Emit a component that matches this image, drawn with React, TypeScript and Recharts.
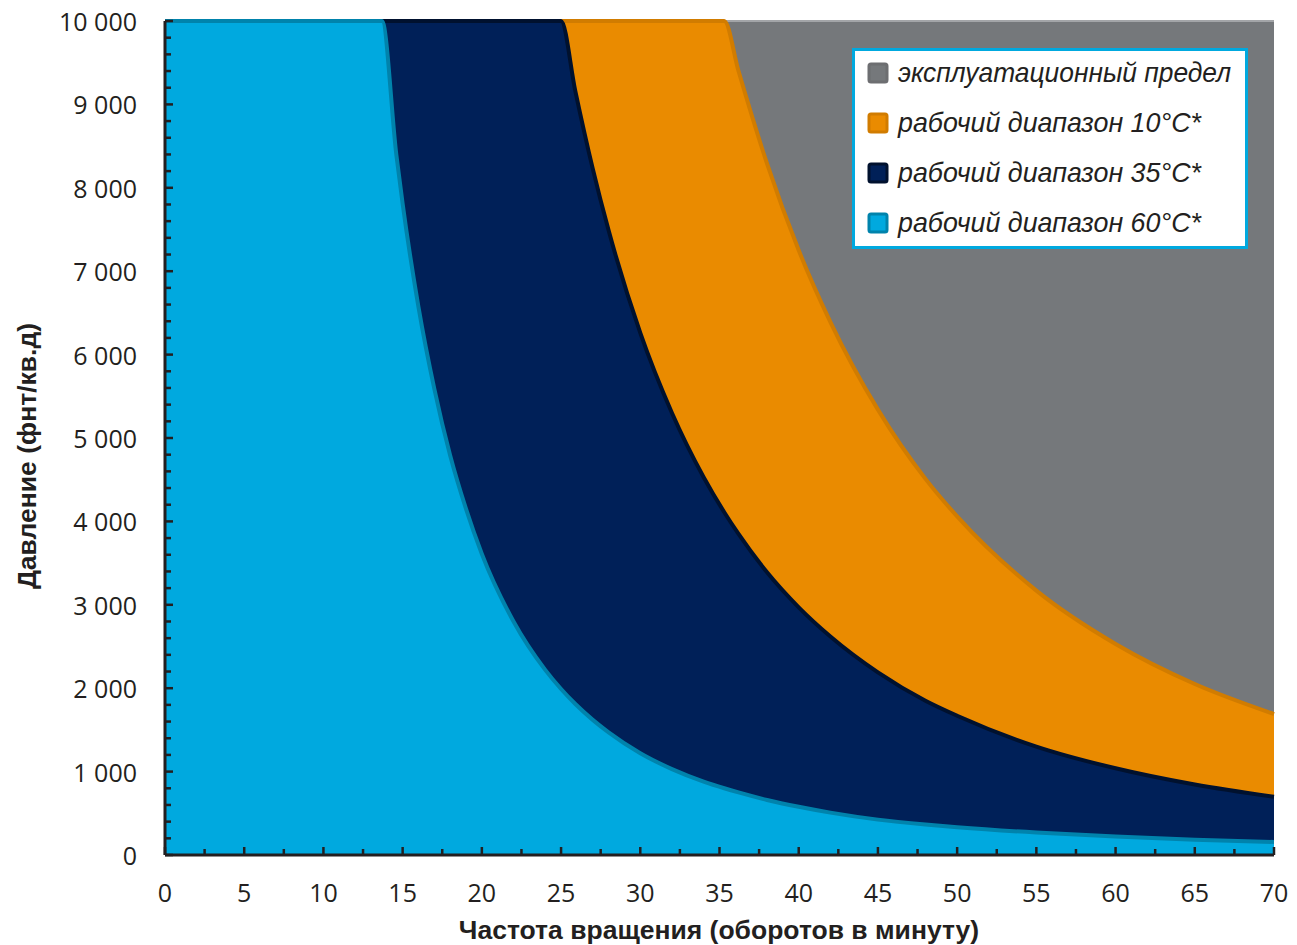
import React from "react";
import { AreaChart, Area, XAxis, YAxis, Legend } from "recharts";

// rotation speed, rpm
const rpm = [
  0, 5, 10, 13.7, 14.6, 15, 16, 17, 18, 19,
  20, 22, 24, 25, 25.9, 27, 28, 30, 32, 34,
  35.3, 36.2, 38, 40, 42, 45, 48, 50, 55, 60,
  65, 70,
];

// pressure, psi
const limitPsi = [
  10000, 10000, 10000, 10000, 10000, 10000, 10000, 10000, 10000, 10000,
  10000, 10000, 10000, 10000, 10000, 10000, 10000, 10000, 10000, 10000,
  10000, 10000, 10000, 10000, 10000, 10000, 10000, 10000, 10000, 10000,
  10000, 10000,
];
const range10 = [
  10000, 10000, 10000, 10000, 10000, 10000, 10000, 10000, 10000, 10000,
  10000, 10000, 10000, 10000, 10000, 10000, 10000, 10000, 10000, 10000,
  10000, 9400, 8290, 7250, 6390, 5340, 4510, 4060, 3170, 2530,
  2050, 1690,
];
const range35 = [
  10000, 10000, 10000, 10000, 10000, 10000, 10000, 10000, 10000, 10000,
  10000, 10000, 10000, 10000, 9160, 8230, 7490, 6260, 5300, 4530,
  4110, 3850, 3390, 2970, 2620, 2190, 1850, 1670, 1300, 1040,
  845, 698,
];
const range60 = [
  10000, 10000, 10000, 10000, 8400, 7810, 6570, 5590, 4790, 4150,
  3610, 2800, 2220, 1990, 1810, 1620, 1470, 1220, 1030, 880,
  800, 750, 660, 578, 508, 424, 365, 333, 269, 221,
  184, 156,
];

const seriesNames = {
  limit: "эксплуатационный предел",
  r10: "рабочий диапазон 10°C*",
  r35: "рабочий диапазон 35°C*",
  r60: "рабочий диапазон 60°C*",
};

const xTitle = "Частота вращения (оборотов в минуту)";
const yTitle = "Давление (фнт/кв.д)";

const xMajorTicks = [0, 5, 10, 15, 20, 25, 30, 35, 40, 45, 50, 55, 60, 65, 70];
const yMajorTicks = [0, 1000, 2000, 3000, 4000, 5000, 6000, 7000, 8000, 9000, 10000];
const xMinorStep = 2.5;
const yMinorStep = 200;

const xTicks = Array.from({ length: 70 / xMinorStep + 1 }, (_, i) => i * xMinorStep);
const yTicks = Array.from({ length: 10000 / yMinorStep + 1 }, (_, i) => i * yMinorStep);

const data = rpm.map((x, i) => ({
  rpm: x,
  limit: limitPsi[i],
  r10: range10[i],
  r35: range35[i],
  r60: range60[i],
}));

const series = [
  { key: "limit", fill: "#75787B", stroke: "#A3A5A8", width: 2, mark: "#6D6E71", textW: 333 },
  { key: "r10", fill: "#EA8B00", stroke: "#D17C00", width: 4, mark: "#D17C00", textW: 303 },
  { key: "r35", fill: "#002058", stroke: "#00112E", width: 4, mark: "#00112E", textW: 303 },
  { key: "r60", fill: "#00A9DF", stroke: "#0083AC", width: 4, mark: "#0083AC", textW: 303 },
];

const ink = "#231F20";
const tickFont = { fontFamily: "'Open Sans', sans-serif", fontSize: 25, fill: ink };
const titleFont = { fontFamily: "'Liberation Sans', Arial, sans-serif", fontSize: 26.5, fontWeight: 700, fill: ink };

const fmt = (v: number) => String(v).replace(/\B(?=(\d{3})+(?!\d))/g, " ");

const XTick = (props: any) => {
  const { x, y, payload } = props;
  const major = xMajorTicks.includes(payload.value);
  return (
    <g>
      <line x1={x} x2={x} y1={y} y2={y - (major ? 8 : 6)} stroke={ink} strokeWidth={2.5} />
      {major && (
        <text x={x} y={y + 37} textAnchor="middle" dominantBaseline="central" style={tickFont}>
          {payload.value}
        </text>
      )}
    </g>
  );
};

const YTick = (props: any) => {
  const { x, y, payload } = props;
  const major = yMajorTicks.includes(payload.value);
  return (
    <g>
      <line x1={x} x2={x + (major ? 8 : 6)} y1={y} y2={y} stroke={ink} strokeWidth={2.5} />
      {major && (
        <text x={x - 28} y={y} textAnchor="end" dominantBaseline="central" style={tickFont}>
          {fmt(payload.value)}
        </text>
      )}
    </g>
  );
};

const LegendBox = () => (
  <div
    style={{
      width: 396,
      height: 201,
      boxSizing: "border-box",
      border: "3px solid #00A9DF",
      background: "#fff",
    }}
  >
    <svg width={390} height={195} style={{ display: "block", overflow: "visible" }}>
      {series.map((s, i) => {
        const cy = 22 + i * 50;
        return (
          <g key={s.key}>
            <rect x={14} y={cy - 9} width={18} height={18} rx={2} fill={s.fill} stroke={s.mark} strokeWidth={3} />
            <text
              x={43}
              y={cy + 9}
              textLength={s.textW}
              lengthAdjust="spacingAndGlyphs"
              style={{ fontFamily: "'Liberation Sans', Arial, sans-serif", fontSize: 28, fontStyle: "italic", fill: ink }}
            >
              {seriesNames[s.key as keyof typeof seriesNames]}
            </text>
          </g>
        );
      })}
    </svg>
  </div>
);

export default function App() {
  return (
    <AreaChart width={1289} height={937} data={data} margin={{ top: 13, right: 23, bottom: 0, left: 0 }}>
      {series.map((s) => (
        <Area
          key={s.key}
          dataKey={s.key}
          name={seriesNames[s.key as keyof typeof seriesNames]}
          type="monotone"
          fill={s.fill}
          fillOpacity={1}
          stroke={s.stroke}
          strokeWidth={s.width}
          dot={false}
          activeDot={false}
          isAnimationActive={false}
        />
      ))}
      <XAxis
        dataKey="rpm"
        type="number"
        domain={[0, 70]}
        ticks={xTicks}
        interval={0}
        height={90}
        tickSize={0}
        tickMargin={0}
        tickLine={false}
        axisLine={{ stroke: ink, strokeWidth: 3 }}
        tick={<XTick />}
        label={{
          content: () => (
            <text x={711} y={922} textAnchor="middle" dominantBaseline="central" style={titleFont}>
              {xTitle}
            </text>
          ),
        }}
      />
      <YAxis
        type="number"
        domain={[0, 10000]}
        ticks={yTicks}
        interval={0}
        width={157}
        tickSize={0}
        tickMargin={0}
        tickLine={false}
        axisLine={{ stroke: ink, strokeWidth: 3 }}
        tick={<YTick />}
        label={{
          content: () => (
            <text
              transform="rotate(-90)"
              x={-448}
              y={19}
              textAnchor="middle"
              dominantBaseline="central"
              style={titleFont}
            >
              {yTitle}
            </text>
          ),
        }}
      />
      <Legend
        layout="horizontal"
        verticalAlign="middle"
        align="center"
        wrapperStyle={{ left: 844, top: 40, width: 396, height: 201 }}
        content={() => <LegendBox />}
      />
    </AreaChart>
  );
}
